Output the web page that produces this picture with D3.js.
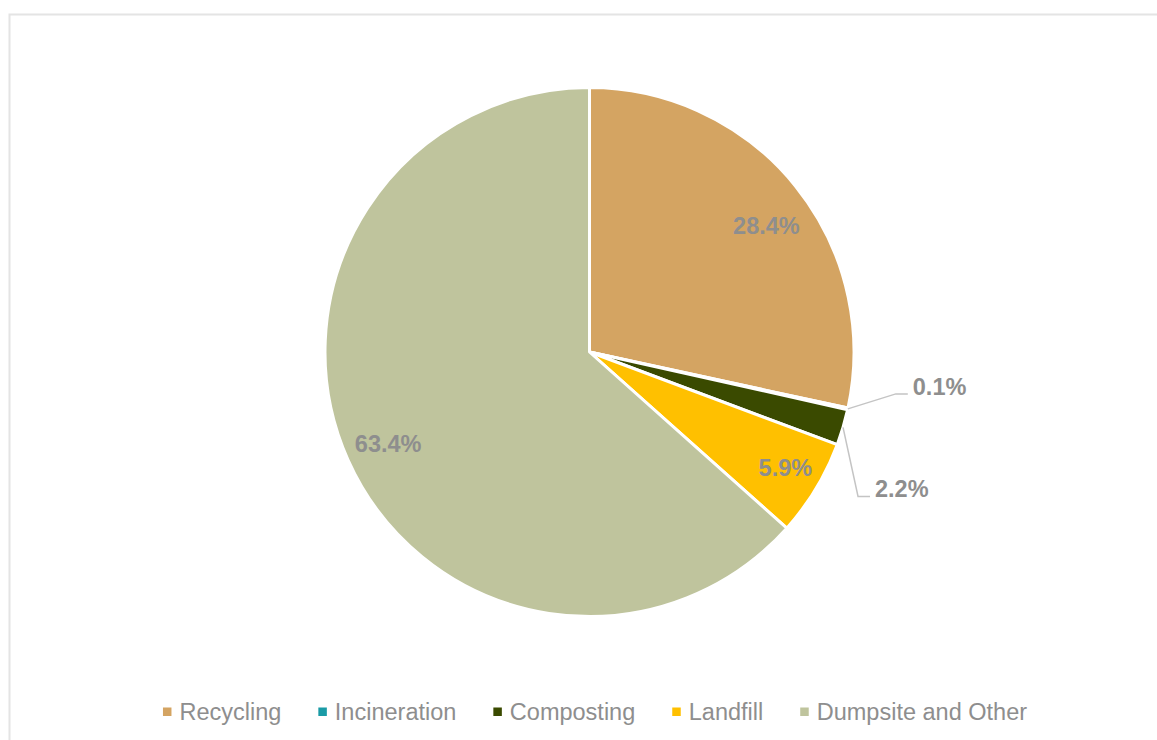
<!doctype html>
<html>
<head>
<meta charset="utf-8"/>
<script src="https://d3js.org/d3.v7.min.js"></script>
<style>
  body { margin: 0; background: #fff; }
  text { font-family: "Liberation Sans", Arial, sans-serif; }
</style>
</head>
<body>
<svg id="chart"></svg>
<script>
// data
var categories = ["Recycling", "Incineration", "Composting", "Landfill", "Dumpsite and Other"];
var shares = [28.4, 0.1, 2.2, 5.9, 63.4];
var colors = ["#D4A462", "#1A9BA6", "#3A4A00", "#FFC000", "#BFC49D"];
var labelText = ["28.4%", "0.1%", "2.2%", "5.9%", "63.4%"];

var width = 1157, height = 740;
var cx = 589.5, cy = 352, R = 264.5;

var svg = d3.select("#chart").attr("width", width).attr("height", height);

// chart area border
svg.append("rect")
  .attr("x", 9.5).attr("y", 14.5)
  .attr("width", width + 20).attr("height", height + 20)
  .attr("fill", "none").attr("stroke", "#e4e4e4").attr("stroke-width", 2);

var pie = d3.pie().sort(null).value(function(d){ return d; });
var arcs = pie(shares);
var arc = d3.arc().innerRadius(0).outerRadius(R);
var labelArc = d3.arc().innerRadius(R * 0.83).outerRadius(R * 0.83);

var g = svg.append("g").attr("transform", "translate(" + cx + "," + cy + ")");

g.selectAll("path.slice")
  .data(arcs)
  .enter()
  .append("path")
  .attr("class", "slice")
  .attr("d", arc)
  .attr("fill", function(d, i){ return colors[i]; })
  .attr("stroke", "#fff")
  .attr("stroke-width", 3)
  .attr("stroke-linejoin", "round");

// small slices get outside labels with leader lines (offsets from edge point)
var outside = { 1: { elbow: [48, -15], run: 12 }, 2: { elbow: [15, 69], run: 12 } };
// best-fit nudges for inside labels
var nudge = { 0: [6, 11], 3: [8, 2], 4: [-1, 2] };

arcs.forEach(function(d, i){
  var mid = (d.startAngle + d.endAngle) / 2;
  if (outside[i]) {
    var o = outside[i];
    var px = R * Math.sin(mid), py = -R * Math.cos(mid);
    var ex = px + o.elbow[0], ey = py + o.elbow[1];
    g.append("polyline")
      .attr("points", [[px, py], [ex, ey], [ex + o.run, ey]].map(function(p){ return p.join(","); }).join(" "))
      .attr("fill", "none")
      .attr("stroke", "#c4c4c4")
      .attr("stroke-width", 1.5);
    g.append("text")
      .attr("x", ex + o.run + 5)
      .attr("y", ey + 1)
      .attr("font-size", "23.5px")
      .attr("font-weight", "bold")
      .attr("fill", "#8e8e8e")
      .text(labelText[i]);
  } else {
    var c = labelArc.centroid(d);
    var n = nudge[i] || [0, 0];
    g.append("text")
      .attr("x", c[0] + n[0])
      .attr("y", c[1] + n[1])
      .attr("dy", "0.36em")
      .attr("text-anchor", "middle")
      .attr("font-size", "23.5px")
      .attr("font-weight", "bold")
      .attr("fill", "#8e8e8e")
      .text(labelText[i]);
  }
});

// legend
var legend = svg.append("g");
var items = legend.selectAll("g.item")
  .data(categories)
  .enter()
  .append("g")
  .attr("class", "item");
items.append("rect")
  .attr("width", 8.5).attr("height", 8.5)
  .attr("y", 707.5)
  .attr("fill", function(d, i){ return colors[i]; });
items.append("text")
  .attr("x", 16.5)
  .attr("y", 720)
  .attr("font-size", "23.5px")
  .attr("fill", "#8e8e8e")
  .text(function(d){ return d; });

var gap = 37, xpos = 0, widths = [];
items.each(function(){
  var w = d3.select(this).select("text").node().getComputedTextLength();
  widths.push(16.5 + w);
});
var total = d3.sum(widths) + gap * (widths.length - 1);
xpos = 595 - total / 2;
items.attr("transform", function(d, i){
  var x = xpos;
  xpos += widths[i] + gap;
  return "translate(" + x + ",0)";
});
</script>
</body>
</html>
